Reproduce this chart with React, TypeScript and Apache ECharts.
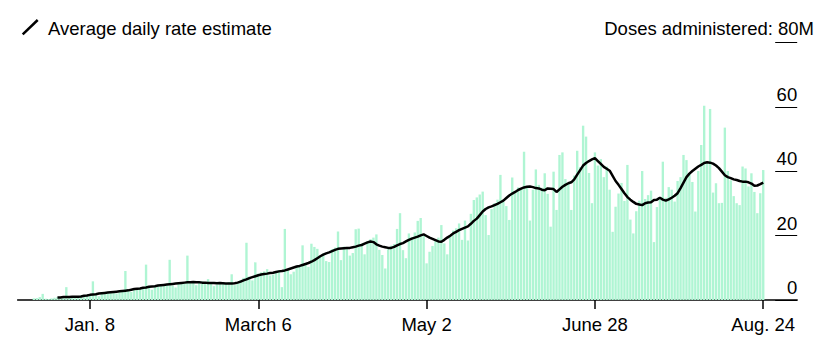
import React, { useEffect, useRef } from "react";
import * as echarts from "echarts";

// Axis domain: one category per day
const firstDay = "2020-12-15";
const dayCount = 264;

// X tick labels
const tickDates = ["2021-01-08", "2021-03-06", "2021-05-02", "2021-06-28", "2021-08-24"];
const tickLabels = ["Jan. 8", "March 6", "May 2", "June 28", "Aug. 24"];

// Y ticks (millions)
const yTicks = [0, 20, 40, 60, 80];

// Daily doses administered (millions), starting at dosesStart
const dosesStart = "2020-12-20";
const dailyDoses = [
  0.5, 0.6, 0.9, 1.9, 0.4, 0.3, 0.5, 0.7, 0.9, 1.0,
  0.8, 4.0, 1.1, 0.7, 0.6, 1.2, 1.4, 1.5, 1.6, 1.7,
  5.8, 1.9, 1.2, 2.3, 2.5, 2.2, 2.6, 2.8, 2.0, 2.6,
  2.9, 9.0, 3.1, 2.5, 3.3, 3.6, 3.8, 3.5, 11.0, 3.9,
  3.2, 4.3, 4.6, 4.4, 4.8, 4.9, 12.5, 4.5, 3.9, 5.2,
  5.4, 5.3, 13.8, 5.9, 5.4, 4.6, 5.5, 5.8, 5.6, 6.5,
  5.2, 4.3, 4.8, 5.6, 5.4, 5.3, 5.6, 8.0, 4.6, 5.2,
  6.2, 6.9, 17.8, 7.3, 6.1, 11.7, 8.2, 8.6, 8.9, 9.6,
  7.6, 7.9, 8.8, 9.3, 4.0, 22.1, 9.4, 8.0, 8.8, 10.5,
  10.8, 17.0, 11.2, 10.3, 17.5, 16.5, 15.9, 13.5, 14.4, 12.1,
  11.8, 15.8, 16.3, 21.3, 12.4, 16.6, 16.0, 13.8, 14.6, 22.0,
  22.2, 17.5, 14.2, 18.3, 18.9, 19.4, 20.4, 15.6, 14.0, 9.8,
  15.8, 16.9, 17.4, 22.1, 27.0, 15.5, 13.0, 20.7, 19.6, 21.0,
  24.6, 25.5, 20.2, 11.4, 15.0, 16.8, 18.3, 19.4, 23.3, 17.6,
  14.2, 19.8, 21.6, 22.3, 23.8, 18.7, 24.7, 18.5, 26.8, 31.1,
  31.9, 32.8, 33.7, 26.4, 20.2, 28.3, 30.1, 31.2, 38.9, 30.5,
  29.2, 24.9, 38.1, 33.5, 35.0, 34.7, 46.1, 35.2, 24.7, 34.3,
  40.6, 35.8, 34.9, 39.4, 33.0, 22.8, 39.9, 28.0, 45.1, 45.9,
  37.6, 36.2, 28.0, 38.7, 46.4, 41.3, 54.2, 50.8, 39.5, 30.1,
  45.9, 41.8, 43.8, 38.2, 41.5, 34.3, 21.2, 29.0, 33.1, 36.4,
  30.8, 42.0, 25.0, 20.7, 27.6, 30.9, 40.1, 31.4, 32.6, 34.0,
  18.0, 28.9, 31.2, 43.0, 31.8, 35.1, 34.3, 30.6, 37.0, 38.2,
  45.1, 43.5, 39.4, 36.7, 27.5, 40.1, 48.2, 60.4, 42.6, 59.4,
  33.4, 36.3, 30.1, 30.2, 53.6, 40.1, 37.2, 32.3, 30.1, 29.5,
  41.5, 40.9, 35.3, 39.4, 33.6, 27.0, 33.2, 40.4,
];

// Average daily rate estimate (millions), starting at avgStart
const avgStart = "2020-12-28";
const avgRate = [
  0.8, 0.8, 0.9, 0.9, 0.9, 1.0, 1.0, 1.0, 1.1, 1.3,
  1.4, 1.6, 1.7, 1.8, 2.0, 2.1, 2.2, 2.3, 2.4, 2.5,
  2.6, 2.7, 2.8, 2.9, 3.0, 3.2, 3.4, 3.5, 3.6, 3.8,
  3.9, 4.1, 4.2, 4.3, 4.5, 4.6, 4.7, 4.8, 4.9, 5.0,
  5.1, 5.2, 5.3, 5.4, 5.5, 5.5, 5.6, 5.5, 5.5, 5.4,
  5.4, 5.3, 5.3, 5.3, 5.2, 5.3, 5.2, 5.1, 5.1, 5.1,
  5.2, 5.4, 5.7, 6.1, 6.4, 6.8, 7.1, 7.4, 7.7, 7.9,
  8.1, 8.2, 8.4, 8.5, 8.7, 8.9, 9.0, 9.2, 9.5, 9.8,
  10.1, 10.4, 10.6, 10.9, 11.2, 11.5, 11.9, 12.4, 13.0, 13.6,
  14.1, 14.5, 14.8, 15.2, 15.6, 15.9, 16.0, 16.1, 16.2, 16.2,
  16.4, 16.6, 16.9, 17.1, 17.5, 17.9, 18.2, 18.0, 17.3, 16.9,
  16.6, 16.4, 16.2, 16.2, 16.5, 17.0, 17.4, 17.7, 18.2, 18.7,
  19.1, 19.4, 19.7, 20.1, 20.4, 19.9, 19.4, 19.0, 18.6, 18.2,
  18.1, 18.7, 19.4, 20.0, 20.7, 21.2, 21.7, 22.1, 22.5, 22.9,
  23.7, 24.6, 25.3, 26.4, 27.5, 28.3, 28.8, 29.1, 29.5, 29.9,
  30.4, 30.9, 31.7, 32.5, 33.1, 33.6, 34.2, 34.6, 35.0, 35.2,
  35.3, 35.1, 34.8, 34.7, 34.3, 34.1, 34.7, 34.6, 34.5, 33.6,
  34.4, 35.2, 35.8, 36.3, 36.6, 37.5, 39.0, 40.4, 41.8, 42.6,
  43.2, 43.7, 44.1, 43.2, 42.3, 41.4, 40.8, 40.2, 38.6, 37.0,
  35.8, 34.5, 33.2, 32.0, 31.2, 30.5, 29.9, 29.7, 29.5, 30.1,
  30.3, 30.4, 31.1, 31.2, 31.8, 31.2, 30.9, 31.3, 31.8, 32.4,
  33.2, 34.8, 36.5, 38.2, 39.3, 40.1, 40.8, 41.5, 42.0, 42.6,
  42.8, 42.7, 42.4, 41.8, 41.0, 39.9, 38.8, 38.2, 37.9, 37.5,
  37.3, 37.0, 36.8, 36.8, 36.6, 36.2, 35.5, 35.6, 36.0, 36.5,
];

const FONT = '"Liberation Sans", Arial, Helvetica, sans-serif';

function buildDays(): string[] {
  const [y, m, d] = firstDay.split("-").map(Number);
  const start = Date.UTC(y, m - 1, d);
  const out: string[] = [];
  for (let i = 0; i < dayCount; i++) {
    out.push(new Date(start + i * 86400000).toISOString().slice(0, 10));
  }
  return out;
}

function alignSeries(days: string[], startDay: string, values: number[]) {
  const offset = days.indexOf(startDay);
  return days.map((_, i) => {
    const k = i - offset;
    return k >= 0 && k < values.length ? values[k] : null;
  });
}

export default function App() {
  const ref = useRef<HTMLDivElement>(null);

  useEffect(() => {
    document.body.style.margin = "0";
    if (!ref.current) return;
    const chart = echarts.init(ref.current, null, { renderer: "svg" });
    const days = buildDays();
    const isTick = (_: number, value: string) => tickDates.indexOf(value) >= 0;

    chart.setOption({
      animation: false,
      grid: { left: 17.6, right: 27.8, top: 42.7, bottom: 59, containLabel: false },
      xAxis: {
        type: "category",
        data: days,
        boundaryGap: true,
        axisLine: { show: true, lineStyle: { color: "#000", width: 1.5 } },
        axisTick: {
          show: true,
          alignWithLabel: true,
          interval: isTick,
          length: 9,
          lineStyle: { color: "#000", width: 1.5 },
        },
        axisLabel: {
          interval: isTick,
          formatter: (v: string) => tickLabels[tickDates.indexOf(v)] ?? "",
          color: "#000",
          fontSize: 18.5,
          fontFamily: FONT,
          margin: 15,
        },
        splitLine: { show: false },
      },
      yAxis: {
        type: "value",
        position: "right",
        min: yTicks[0],
        max: yTicks[yTicks.length - 1],
        interval: yTicks[1] - yTicks[0],
        axisLine: { show: false },
        splitLine: { show: false },
        axisTick: { show: true, inside: true, length: 22, lineStyle: { color: "#000", width: 1 } },
        axisLabel: {
          inside: true,
          margin: 0,
          align: "right",
          verticalAlign: "bottom",
          padding: [0, 0, 3, 0],
          color: "#000",
          fontSize: 18.5,
          fontFamily: FONT,
          formatter: (v: number) => (v === yTicks[yTicks.length - 1] ? "" : String(v)),
        },
      },
      graphic: [
        {
          type: "line",
          shape: { x1: 22.7, y1: 34.3, x2: 37.7, y2: 20 },
          style: { stroke: "#000", lineWidth: 2.5 },
        },
        {
          type: "text",
          x: 48,
          y: 28.6,
          style: {
            text: "Average daily rate estimate",
            fill: "#000",
            fontSize: 18.5,
            fontFamily: FONT,
            verticalAlign: "middle",
            align: "left",
          },
        },
        {
          type: "text",
          x: 814,
          y: 28.6,
          style: {
            text: "Doses administered: 80M",
            fill: "#000",
            fontSize: 18.5,
            fontFamily: FONT,
            verticalAlign: "middle",
            align: "right",
          },
        },
      ],
      series: [
        {
          name: "Doses administered",
          type: "bar",
          data: alignSeries(days, dosesStart, dailyDoses),
          barCategoryGap: "20%",
          itemStyle: { color: "#aff5d3" },
          silent: true,
        },
        {
          name: "Average daily rate estimate",
          type: "line",
          data: alignSeries(days, avgStart, avgRate),
          symbol: "none",
          lineStyle: { color: "#000", width: 2.5 },
          itemStyle: { color: "#000" },
          z: 5,
          silent: true,
        },
      ],
    });

    return () => chart.dispose();
  }, []);

  return <div ref={ref} style={{ width: 825, height: 359 }} />;
}
